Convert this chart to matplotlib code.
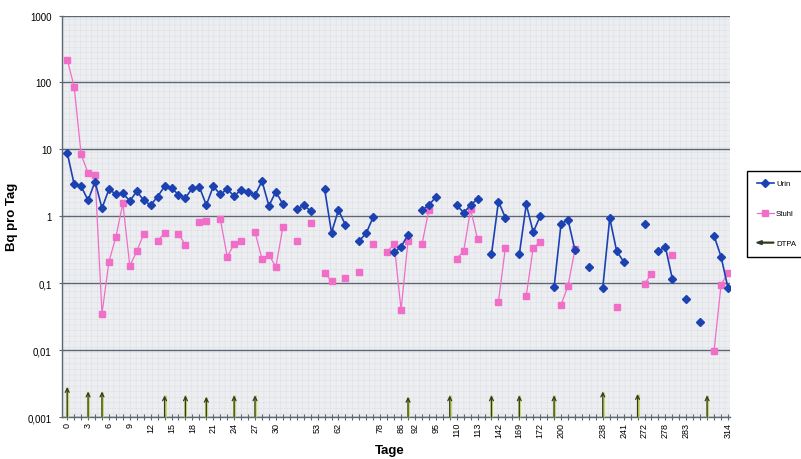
import numpy as np
import matplotlib
matplotlib.use("Agg")
import matplotlib.pyplot as plt
import matplotlib.patches as mpatches
from matplotlib.lines import Line2D
from matplotlib.legend_handler import HandlerPatch

plt.rcParams["font.family"] = ["Liberation Sans", "DejaVu Sans"]
plt.rcParams["hatch.linewidth"] = 0.3

nan = np.nan

# one entry per sample row; rows without a day number stay unlabelled
day_labels = [
    "0", "", "", "3", "", "", "6", "", "", "9",
    "", "", "12", "", "", "15", "", "", "18", "",
    "", "21", "", "", "24", "", "", "27", "", "",
    "30", "", "", "", "", "", "53", "", "", "62",
    "", "", "", "", "", "78", "", "", "86", "",
    "92", "", "", "95", "", "", "110", "", "", "113",
    "", "", "142", "", "", "169", "", "", "172", "",
    "", "200", "", "", "", "", "", "238", "", "",
    "241", "", "", "272", "", "", "278", "", "", "283",
    "", "", "", "", "", "314",
]

# Bq per day in urine
urin = [
    8.9, 3.0, 2.8, 1.73, 3.3, 1.32, 2.53, 2.13, 2.2, 1.69,
    2.36, 1.73, 1.47, 1.97, 2.8, 2.68, 2.08, 1.9, 2.62, 2.74,
    1.47, 2.8, 2.13, 2.53, 2.01, 2.47, 2.34, 2.06, 3.36, 1.43,
    2.34, 1.51, nan, 1.27, 1.46, 1.2, nan, 2.59, 0.57, 1.24,
    0.74, nan, 0.43, 0.56, 0.98, nan, nan, 0.29, 0.35, 0.53,
    nan, 1.23, 1.47, 1.94, nan, nan, 1.47, 1.13, 1.46, 1.84,
    nan, 0.27, 1.66, 0.95, nan, 0.27, 1.5, 0.58, 1.0, nan,
    0.087, 0.77, 0.89, 0.31, nan, 0.175, nan, 0.085, 0.94, 0.30,
    0.21, nan, nan, 0.76, nan, 0.30, 0.35, 0.116, nan, 0.059,
    nan, 0.0265, nan, 0.51, 0.25, 0.085,
]

# Bq per day in faeces
stuhl = [
    220, 86, 8.4, 4.4, 4.1, 0.035, 0.21, 0.49, 1.56, 0.18,
    0.30, 0.545, nan, 0.43, 0.56, nan, 0.55, 0.37, nan, 0.82,
    0.86, nan, 0.92, 0.25, 0.38, 0.42, nan, 0.58, 0.23, 0.265,
    0.175, 0.68, nan, 0.43, nan, 0.78, nan, 0.141, 0.108, nan,
    0.119, nan, 0.146, nan, 0.38, nan, 0.29, 0.39, 0.040, 0.43,
    nan, 0.38, 1.24, nan, nan, nan, 0.233, 0.30, 1.27, 0.454,
    nan, nan, 0.053, 0.34, nan, nan, 0.065, 0.34, 0.41, nan,
    nan, 0.0475, 0.091, 0.32, nan, nan, nan, nan, nan, 0.044,
    nan, nan, nan, 0.097, 0.139, nan, nan, 0.265, nan, nan,
    nan, nan, nan, 0.0097, 0.094, 0.144,
]

# DTPA administrations (sample row) and the height of each marker arrow
dtpa_rows = [0, 3, 5, 14, 17, 20, 24, 27, 49, 55, 61, 65, 70, 77, 82, 92]
dtpa_top = [0.0028, 0.0024, 0.0024, 0.0021, 0.0021, 0.0020, 0.0021, 0.0021,
            0.0020, 0.0021, 0.0021, 0.0021, 0.0021, 0.0024, 0.0022, 0.0021]

y_ticks = [0.001, 0.01, 0.1, 1, 10, 100, 1000]
y_tick_labels = ["0,001", "0,01", "0,1", "1", "10", "100", "1000"]

BLUE = "#1c42b2"
PINK = "#f06ec8"
AXIS = "#5d6874"
ARROW = "#2e3b26"
ARROW_SHAFT = "#c5d24a"


def legend_arrow(legend, orig_handle, xdescent, ydescent, width, height, fontsize):
    return mpatches.FancyArrow(width - xdescent, height / 2 - ydescent, -width, 0,
                               width=0.6, head_width=height * 0.7,
                               head_length=4, length_includes_head=True)


fig = plt.figure(figsize=(8.01, 4.6), dpi=100)
fig.patch.set_facecolor("white")
ax = fig.add_axes([0.0774, 0.0913, 0.8336, 0.8728])
ax.set_facecolor("#eceef1")

# fine graph-paper texture behind the data
ax.add_patch(mpatches.Rectangle((0, 0), 1, 1, transform=ax.transAxes,
                                facecolor="none", edgecolor="#dadde2",
                                hatch="+++", linewidth=0, zorder=0))

x = np.arange(len(day_labels))
ax.set_yscale("log")
ax.set_ylim(y_ticks[0], y_ticks[-1])
ax.set_xlim(-0.75, len(day_labels) - 0.75)

ax.plot(x, urin, color=BLUE, lw=1.2, marker="D", ms=4.2,
        markeredgecolor=BLUE, zorder=4, label="Urin")
ax.plot(x, stuhl, color=PINK, lw=0.9, marker="s", ms=4.4,
        markeredgecolor=PINK, zorder=3, label="Stuhl")

y0 = y_ticks[0]
for row, top in zip(dtpa_rows, dtpa_top):
    ax.plot([row, row], [y0, top], color=ARROW_SHAFT, lw=2.2, alpha=0.8,
            solid_capstyle="butt", zorder=5, clip_on=False)
    ax.annotate("", xy=(row, top), xytext=(row, y0),
                arrowprops=dict(arrowstyle="->", color=ARROW, lw=0.9,
                                shrinkA=0, shrinkB=0, mutation_scale=7),
                zorder=6, annotation_clip=False)

# axes styling
ax.set_yticks(y_ticks)
ax.set_yticklabels(y_tick_labels)
ax.yaxis.set_minor_locator(matplotlib.ticker.NullLocator())
ax.set_xticks(x)
ax.set_xticklabels(day_labels, rotation=90)
ax.tick_params(axis="y", direction="inout", length=5, width=0.8,
               color=AXIS, labelsize=7, pad=5)
ax.tick_params(axis="x", direction="inout", length=5, width=0.8,
               color=AXIS, labelsize=6.5, pad=1)
ax.yaxis.grid(True, color=AXIS, lw=1.0)
ax.set_axisbelow(True)
for side in ("top", "right"):
    ax.spines[side].set_visible(False)
for side in ("left", "bottom"):
    ax.spines[side].set_color(AXIS)
    ax.spines[side].set_linewidth(1.0)

ax.set_ylabel("Bq pro Tag", fontsize=9.5, fontweight="bold")
ax.yaxis.set_label_coords(-0.066, 0.5)
ax.set_xlabel("Tage", fontsize=9.5, fontweight="bold")
ax.xaxis.set_label_coords(0.491, -0.068)

handles = [
    Line2D([], [], color=BLUE, lw=1.2, marker="D", ms=4),
    Line2D([], [], color=PINK, lw=0.9, marker="s", ms=4),
    mpatches.Patch(color=ARROW),
]
fig.legend(handles, ["Urin", "Stuhl", "DTPA"], loc="upper left",
           bbox_to_anchor=(0.933, 0.627), fontsize=5.6, frameon=True,
           fancybox=False, edgecolor="black", framealpha=1,
           labelspacing=2.9, handlelength=2.2, borderpad=1.2,
           handletextpad=0.3, borderaxespad=0,
           handler_map={mpatches.Patch: HandlerPatch(patch_func=legend_arrow)})

fig.savefig("out.png", dpi=100, facecolor="white")
